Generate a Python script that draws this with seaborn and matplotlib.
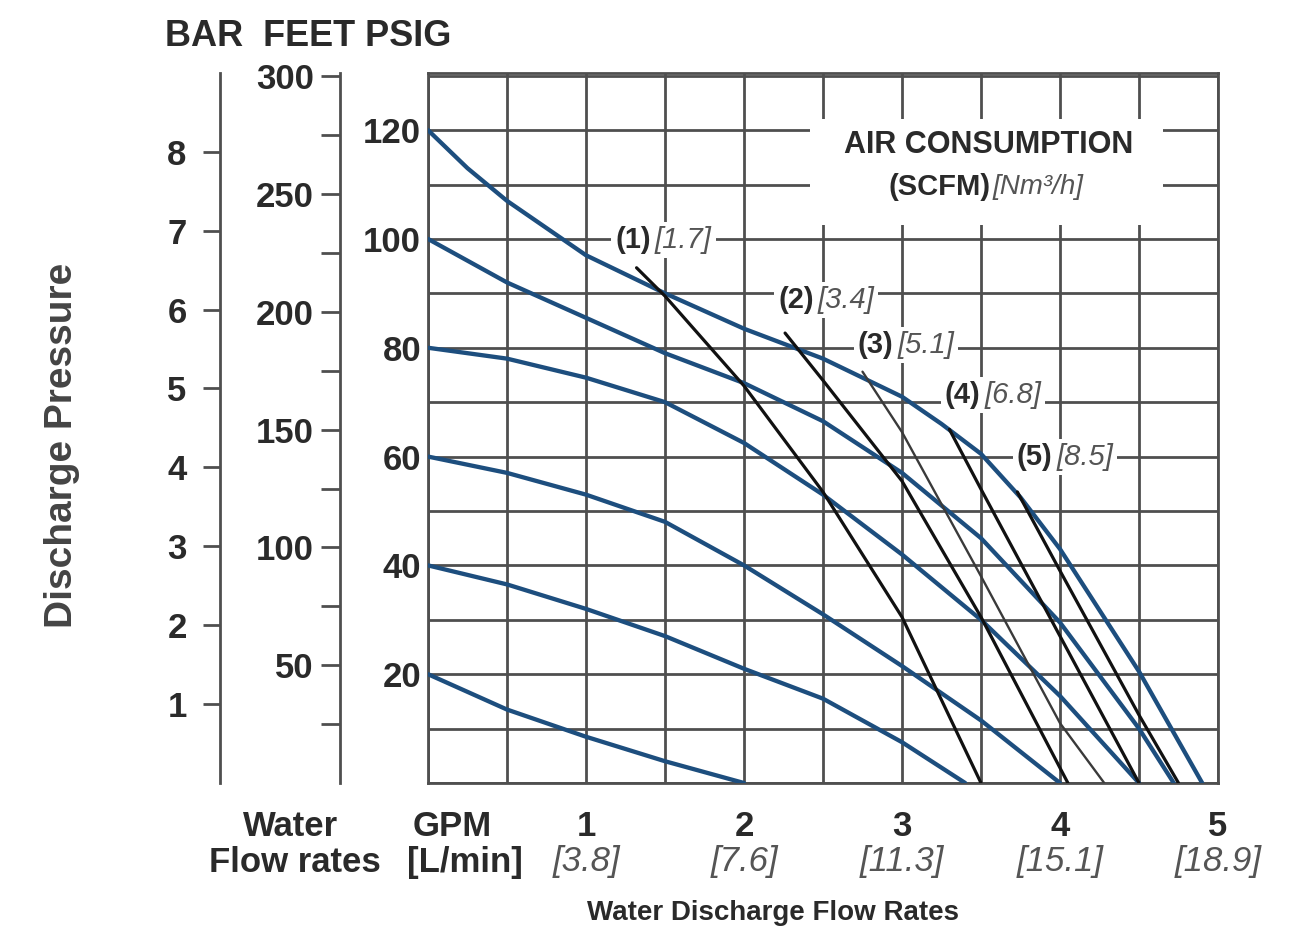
import matplotlib
matplotlib.use('Agg')
import matplotlib.pyplot as plt
from matplotlib.patches import Rectangle
import seaborn as sns

# discharge curves at constant air inlet pressure (psig), flow in GPM
flow_120 = [0, 0.25, 0.5, 1, 1.5, 2, 2.5, 3, 3.25, 3.5, 3.75, 4, 4.5, 4.9]
psig_120 = [120, 113, 107, 97, 90, 83.5, 78, 71, 66, 60.5, 52.5, 43, 20.5, 0]
flow_100 = [0, 0.5, 1, 1.5, 2, 2.5, 3, 3.5, 4, 4.5, 4.72]
psig_100 = [100, 92, 85.5, 79, 73.5, 66.5, 57, 45, 29.5, 10, 0]
flow_80 = [0, 0.5, 1, 1.5, 2, 2.5, 3, 3.5, 4, 4.5]
psig_80 = [80, 78, 74.5, 70, 62.5, 53, 42, 30, 16, 0]
flow_60 = [0, 0.5, 1, 1.5, 2, 2.5, 3, 3.5, 4]
psig_60 = [60, 57, 53, 48, 40, 31, 21.5, 11.5, 0]
flow_40 = [0, 0.5, 1, 1.5, 2, 2.5, 3, 3.4]
psig_40 = [40, 36.5, 32, 27, 21, 15.5, 7.5, 0]
flow_20 = [0, 0.5, 1, 1.5, 2]
psig_20 = [20, 13.5, 8.5, 4, 0]

# air consumption lines
air_flow_1 = [1.32, 1.5, 2, 2.5, 3, 3.5]
air_psig_1 = [94.7, 89.5, 73, 53.5, 30.5, 0]
air_flow_2 = [2.26, 2.5, 3, 3.5, 4.05]
air_psig_2 = [82.7, 74, 55.5, 30.5, 0]
air_flow_3 = [2.75, 3, 3.5, 4, 4.28]
air_psig_3 = [75.6, 64.5, 38, 11, 0]
air_flow_4 = [3.3, 3.5, 4, 4.5]
air_psig_4 = [65, 54, 27, 0]
air_flow_5 = [3.73, 4, 4.5, 4.75]
air_psig_5 = [53.5, 39, 12.5, 0]

air_names = ['(1)', '(2)', '(3)', '(4)', '(5)']
air_nm3 = ['[1.7]', '[3.4]', '[5.1]', '[6.8]', '[8.5]']

gpm_ticks = [1, 2, 3, 4, 5]
lpm_labels = ['[3.8]', '[7.6]', '[11.3]', '[15.1]', '[18.9]']
psig_ticks = [20, 40, 60, 80, 100, 120]
feet_ticks = [50, 100, 150, 200, 250, 300]
bar_ticks = [1, 2, 3, 4, 5, 6, 7, 8]

W, H = 1290, 930
def fx(px):
    return px / W
def fy(py):
    return 1 - py / H

sns.set_theme(style='white')
plt.rcParams['font.family'] = ['Liberation Sans', 'DejaVu Sans']
plt.rcParams['font.weight'] = 'bold'

blue = '#1d4e7e'
gridc = '#4f4f4f'
txt = '#2a2a2a'
ymax = 130.5
fs = 25

fig = plt.figure(figsize=(12.9, 9.3), dpi=100)
ax = fig.add_axes([fx(428), fy(783), 790 / W, 710 / H])

curves = [(flow_120, psig_120), (flow_100, psig_100), (flow_80, psig_80),
          (flow_60, psig_60), (flow_40, psig_40), (flow_20, psig_20)]
for fl, ps in curves:
    sns.lineplot(x=fl, y=ps, ax=ax, color=blue, lw=3.1, sort=False, estimator=None, zorder=4)

air_lines = [(air_flow_1, air_psig_1), (air_flow_2, air_psig_2), (air_flow_3, air_psig_3),
             (air_flow_4, air_psig_4), (air_flow_5, air_psig_5)]
for i, (fl, ps) in enumerate(air_lines):
    c = '#3a3a3a' if i == 2 else '#111111'
    w = 1.7 if i == 2 else 2.3
    sns.lineplot(x=fl, y=ps, ax=ax, color=c, lw=w, sort=False, estimator=None, zorder=5)

ax.set_xlim(0, 5)
ax.set_ylim(0, ymax)
ax.set_xticks([i * 0.5 for i in range(11)])
ax.set_xticklabels([])
ax.set_yticks(list(range(0, 131, 10)))
ax.set_yticklabels([str(v) if v in psig_ticks else '' for v in range(0, 131, 10)])
ax.tick_params(axis='both', length=0, pad=5, labelsize=fs, labelcolor=txt)
ax.grid(True, color=gridc, lw=2)
ax.set_axisbelow(True)
for s in ax.spines.values():
    s.set_color(gridc)
    s.set_linewidth(2)
ax.set_xlabel('')
ax.set_ylabel('')

# white area behind the air consumption title
ax.add_patch(Rectangle((2.42, 102.5), 2.23, 19.5, facecolor='white', edgecolor='none', zorder=1))
ax.text(3.55, 117.2, 'AIR CONSUMPTION', ha='center', va='center', fontsize=22,
        color=txt, zorder=6)
ax.text(3.56, 109.5, '(SCFM)', ha='right', va='center', fontsize=21, color=txt, zorder=6)
ax.text(3.575, 109.5, '[Nm³/h]', ha='left', va='center', fontsize=20, style='italic',
        fontweight='normal', color='#555555', zorder=6)

# air consumption labels
label_pos = [(1.424, 99.8), (2.453, 88.8), (2.959, 80.5), (3.509, 71.3), (3.965, 59.9)]
bb = dict(facecolor='white', edgecolor='none', pad=3)
for (x, y), n, v in zip(label_pos, air_names, air_nm3):
    ax.text(x - 0.012, y, n, ha='right', va='center', fontsize=21, color=txt, bbox=bb, zorder=6)
    ax.text(x + 0.012, y, v, ha='left', va='center', fontsize=21, style='italic',
            fontweight='normal', color='#555555', bbox=bb, zorder=6)

# GPM / L/min labels under the chart
tr = ax.get_xaxis_transform()
for g, l in zip(gpm_ticks, lpm_labels):
    ax.text(g, -0.061, str(g), transform=tr, ha='center', va='center', fontsize=fs, color=txt)
    ax.text(g, -0.111, l, transform=tr, ha='center', va='center', fontsize=fs,
            style='italic', fontweight='normal', color='#555555')
fig.text(fx(452), fy(826), 'GPM', ha='center', va='center', fontsize=fs, color=txt)
fig.text(fx(465), fy(862), '[L/min]', ha='center', va='center', fontsize=fs, color=txt)
fig.text(fx(291), fy(826), 'Water', ha='center', va='center', fontsize=fs, color=txt)
fig.text(fx(295), fy(862), 'Flow rates', ha='center', va='center', fontsize=fs, color=txt)
fig.text(fx(773), fy(913), 'Water Discharge Flow Rates', ha='center', va='center',
         fontsize=20, color=txt, family=['Liberation Sans Narrow', 'Liberation Sans', 'DejaVu Sans'])

# feet scale
ax_ft = fig.add_axes([fx(340), fy(783), 0.0005, 710 / H])
ax_ft.set_ylim(0, ymax * 2.31)
ax_ft.set_yticks(feet_ticks)
ax_ft.set_yticks([25, 75, 125, 175, 225, 275], minor=True)
ax_ft.set_xticks([])
ax_ft.tick_params(axis='y', which='both', direction='out', length=14, width=2, color=gridc,
                  labelsize=fs, labelcolor=txt, pad=5, left=True)
for k in ['top', 'right', 'bottom']:
    ax_ft.spines[k].set_visible(False)
ax_ft.spines['left'].set_color(gridc)
ax_ft.spines['left'].set_linewidth(2)
ax_ft.patch.set_alpha(0)

# bar scale
ax_bar = fig.add_axes([fx(220), fy(783), 0.0005, 710 / H])
ax_bar.set_ylim(0, ymax / 14.5038)
ax_bar.set_yticks(bar_ticks)
ax_bar.set_xticks([])
ax_bar.tick_params(axis='y', direction='out', length=12, width=2, color=gridc,
                   labelsize=fs, labelcolor=txt, pad=12, left=True)
for k in ['top', 'right', 'bottom']:
    ax_bar.spines[k].set_visible(False)
ax_bar.spines['left'].set_color(gridc)
ax_bar.spines['left'].set_linewidth(2)
ax_bar.patch.set_alpha(0)

fig.text(fx(165), fy(37), 'BAR  FEET PSIG', ha='left', va='center', fontsize=26, color=txt)
fig.text(fx(62), fy(445), 'Discharge Pressure', ha='center', va='center', rotation=90,
         fontsize=28, color='#444444')

fig.savefig('out.png', dpi=100)
